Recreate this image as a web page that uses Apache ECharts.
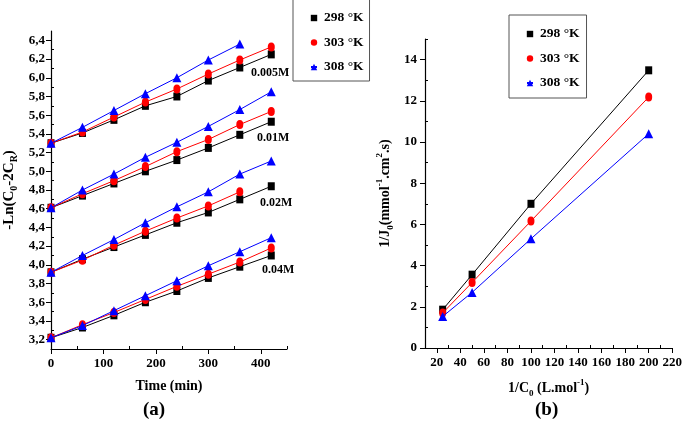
<!DOCTYPE html>
<html><head><meta charset="utf-8">
<script src="https://cdn.jsdelivr.net/npm/echarts@6/dist/echarts.min.js"></script>
<style>html,body{margin:0;padding:0;background:#fff}#c{width:685px;height:428px}</style>
</head><body><div id="c"></div>
<script>
// ---- Data (a): -Ln(C0-2CR) vs time ----
const timeA = [0, 60, 120, 180, 240, 300, 360, 420];
const temps = ['298 °K', '303 °K', '308 °K'];
const groups = ['0.005M', '0.01M', '0.02M', '0.04M'];
const a005_298 = [5.30, 5.41, 5.55, 5.70, 5.80, 5.97, 6.11, 6.25];
const a005_303 = [5.30, 5.42, 5.58, 5.74, 5.88, 6.04, 6.19, 6.33];
const a005_308 = [5.30, 5.47, 5.65, 5.83, 6.00, 6.19, 6.36];
const a01_298 = [4.61, 4.74, 4.87, 5.00, 5.12, 5.25, 5.39, 5.53];
const a01_303 = [4.61, 4.76, 4.90, 5.05, 5.21, 5.34, 5.50, 5.64];
const a01_308 = [4.61, 4.80, 4.97, 5.15, 5.31, 5.48, 5.66, 5.85];
const a02_298 = [3.92, 4.06, 4.19, 4.32, 4.45, 4.56, 4.70, 4.84];
const a02_303 = [3.92, 4.05, 4.21, 4.36, 4.50, 4.63, 4.78];
const a02_308 = [3.92, 4.10, 4.27, 4.45, 4.62, 4.78, 4.97, 5.11];
const a04_298 = [3.22, 3.33, 3.46, 3.60, 3.72, 3.86, 3.98, 4.10];
const a04_303 = [3.22, 3.36, 3.49, 3.63, 3.77, 3.90, 4.03, 4.18];
const a04_308 = [3.22, 3.35, 3.51, 3.67, 3.83, 3.99, 4.14, 4.29];
const yTicksA = [3.2, 3.4, 3.6, 3.8, 4.0, 4.2, 4.4, 4.6, 4.8, 5.0, 5.2, 5.4, 5.6, 5.8, 6.0, 6.2, 6.4];
const yMinorA = [3.3, 3.5, 3.7, 3.9, 4.1, 4.3, 4.5, 4.7, 4.9, 5.1, 5.3, 5.5, 5.7, 5.9, 6.1, 6.3];
const xMinorA = [50, 150, 250, 350, 450];

// ---- Data (b): 1/J0 vs 1/C0 ----
const invC0 = [25, 50, 100, 200];
const b298 = [1.86, 3.56, 7.00, 13.48];
const b303 = [1.70, 3.18, 6.16, 12.18];
const b308 = [1.53, 2.70, 5.30, 10.40];
const xTicksB = [20, 40, 60, 80, 100, 120, 140, 160, 180, 200, 220];
const xMinorB = [30, 50, 70, 90, 110, 130, 150, 170, 190, 210];
const yMinorB = [1, 3, 5, 7, 9, 11, 13, 15];

const colors = ['#000000', '#ff0000', '#0000ff'];
const symbols = ['rect', 'circle', 'triangle'];
const symSizes = [[7, 8], [7, 9], [9, 9]];
const F = 'Liberation Serif';

function pairs(xs, ys) { return ys.map((v, i) => [xs[i], v]); }

const seriesA = [];
const setsA = [[a005_298, a005_303, a005_308], [a01_298, a01_303, a01_308], [a02_298, a02_303, a02_308], [a04_298, a04_303, a04_308]];
setsA.forEach(g => g.forEach((arr, k) => {
  seriesA.push({
    name: temps[k], type: 'line', xAxisIndex: 0, yAxisIndex: 0,
    data: pairs(timeA, arr), symbol: symbols[k], symbolSize: symSizes[k], showSymbol: true,
    itemStyle: { color: colors[k] }, lineStyle: { color: colors[k], width: 1 }, z: 3 + k, animation: false
  });
}));
const setsB = [b298, b303, b308];
const seriesB = setsB.map((arr, k) => ({
  name: temps[k], type: 'line', xAxisIndex: 2, yAxisIndex: 2,
  data: pairs(invC0, arr), symbol: symbols[k], symbolSize: symSizes[k], showSymbol: true,
  itemStyle: { color: colors[k] }, lineStyle: { color: colors[k], width: 1 }, z: 3 + k, animation: false
}));

const lbl = { fontFamily: F, fontWeight: 'bold', fontSize: 13, color: '#000' };
const legTxt = { fontFamily: F, fontWeight: 'bold', fontSize: 13.5, color: '#000', padding: [0, 0, 0, 2] };
const axLine = { show: true, lineStyle: { color: '#000', width: 1.2 } };
const minorAxis = (extra) => Object.assign({ type: 'value', axisLine: { show: false }, axisLabel: { show: false }, splitLine: { show: false } }, extra);

const chart = echarts.init(document.getElementById('c'), null, { renderer: 'canvas' });
chart.setOption({
  animation: false,
  backgroundColor: '#fff',
  legend: [
    { data: temps, left: 293, top: -2, orient: 'vertical', itemGap: 10.5, itemWidth: 6, itemHeight: 8,
      padding: [13, 6, 7, 17], borderColor: '#555', borderWidth: 1, textStyle: legTxt, selectedMode: false },
    { data: temps, left: 509, top: 15, orient: 'vertical', itemGap: 10.5, itemWidth: 6, itemHeight: 8,
      padding: [12, 7, 8, 17], borderColor: '#555', borderWidth: 1, textStyle: legTxt, selectedMode: false }
  ],
  grid: [
    { left: 51, right: 398, top: 31, bottom: 79 },
    { left: 425, right: 11, top: 39, bottom: 80 }
  ],
  xAxis: [
    { gridIndex: 0, type: 'value', min: 0, max: 450, interval: 100, axisLine: axLine,
      axisTick: { length: 5, lineStyle: { color: '#000' } },
      splitLine: { show: false }, axisLabel: Object.assign({ showMaxLabel: false, margin: 8 }, lbl),
      name: 'Time (min)', nameLocation: 'middle', nameGap: 30, nameTextStyle: { fontFamily: F, fontWeight: 'bold', fontSize: 14, color: '#000' } },
    minorAxis({ gridIndex: 0, min: 0, max: 450, position: 'bottom',
      axisTick: { show: true, inside: true, length: 3, customValues: xMinorA, lineStyle: { color: '#000' } } }),
    { gridIndex: 1, type: 'value', min: 10, max: 220, axisLine: axLine,
      axisTick: { length: 5, customValues: xTicksB, lineStyle: { color: '#000' } },
      splitLine: { show: false }, axisLabel: Object.assign({ customValues: xTicksB, margin: 8 }, lbl),
      name: '{m|1/C}{sub|0}{m| (L.mol}{sup|-1}{m|)}', nameLocation: 'middle', nameGap: 30,
      nameTextStyle: { rich: {
        m: { fontFamily: F, fontWeight: 'bold', fontSize: 14, color: '#000', lineHeight: 20, verticalAlign: 'middle' },
        sub: { fontFamily: F, fontWeight: 'bold', fontSize: 9, color: '#000', lineHeight: 10, verticalAlign: 'bottom' },
        sup: { fontFamily: F, fontWeight: 'bold', fontSize: 9, color: '#000', lineHeight: 10, verticalAlign: 'top' } } } },
    minorAxis({ gridIndex: 1, min: 10, max: 220, position: 'bottom',
      axisTick: { show: true, inside: true, length: 3, customValues: xMinorB, lineStyle: { color: '#000' } } })
  ],
  yAxis: [
    { gridIndex: 0, type: 'value', min: 3.1, max: 6.5, axisLine: axLine,
      axisTick: { length: 5, customValues: yTicksA, lineStyle: { color: '#000' } },
      splitLine: { show: false },
      axisLabel: Object.assign({ customValues: yTicksA, margin: 6, formatter: v => v.toFixed(1).replace('.', ',') }, lbl),
      name: '{m|-Ln(C}{sub|0}{m|-2C}{sub|R}{m|)}', nameLocation: 'middle', nameGap: 32, nameRotate: 90,
      nameTextStyle: { rich: {
        m: { fontFamily: F, fontWeight: 'bold', fontSize: 15, color: '#000', lineHeight: 20, verticalAlign: 'middle' },
        sub: { fontFamily: F, fontWeight: 'bold', fontSize: 10, color: '#000', lineHeight: 10, verticalAlign: 'bottom' } } } },
    minorAxis({ gridIndex: 0, min: 3.1, max: 6.5, position: 'left',
      axisTick: { show: true, inside: true, length: 3, customValues: yMinorA, lineStyle: { color: '#000' } } }),
    { gridIndex: 1, type: 'value', min: 0, max: 15, interval: 2, axisLine: axLine,
      axisTick: { length: 5, lineStyle: { color: '#000' } },
      splitLine: { show: false }, axisLabel: Object.assign({ showMaxLabel: false, margin: 8 }, lbl),
      name: '{m|1/J}{sub|0}{m|(mmol}{sup|-1}{m|.cm}{sup|2}{m|.s)}', nameLocation: 'middle', nameGap: 30, nameRotate: 90,
      nameTextStyle: { rich: {
        m: { fontFamily: F, fontWeight: 'bold', fontSize: 14, color: '#000', lineHeight: 20, verticalAlign: 'middle' },
        sub: { fontFamily: F, fontWeight: 'bold', fontSize: 9, color: '#000', lineHeight: 10, verticalAlign: 'bottom' },
        sup: { fontFamily: F, fontWeight: 'bold', fontSize: 9, color: '#000', lineHeight: 10, verticalAlign: 'top' } } } },
    minorAxis({ gridIndex: 1, min: 0, max: 15, position: 'left',
      axisTick: { show: true, inside: true, length: 3, customValues: yMinorB, lineStyle: { color: '#000' } } })
  ],
  graphic: [
    { type: 'text', left: 251, top: 67, style: { text: groups[0], font: 'bold 12px "Liberation Serif"', fill: '#000' } },
    { type: 'text', left: 257, top: 132, style: { text: groups[1], font: 'bold 12px "Liberation Serif"', fill: '#000' } },
    { type: 'text', left: 260, top: 197, style: { text: groups[2], font: 'bold 12px "Liberation Serif"', fill: '#000' } },
    { type: 'text', left: 262, top: 264, style: { text: groups[3], font: 'bold 12px "Liberation Serif"', fill: '#000' } },
    { type: 'text', left: 143, top: 401, style: { text: '(a)', font: 'bold 19px "Liberation Serif"', fill: '#000' } },
    { type: 'text', left: 535, top: 401, style: { text: '(b)', font: 'bold 19px "Liberation Serif"', fill: '#000' } }
  ],
  series: seriesA.concat(seriesB)
});
</script></body></html>
